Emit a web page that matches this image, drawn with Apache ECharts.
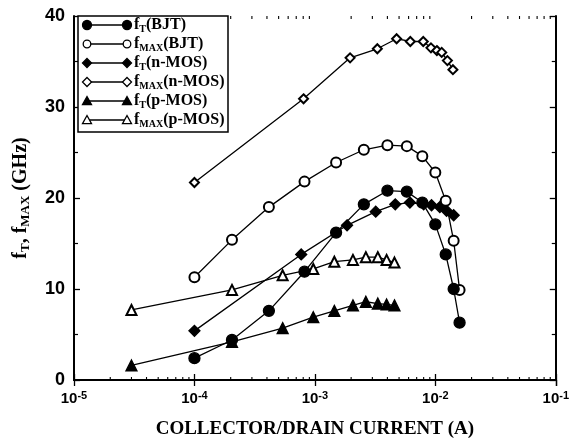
<!DOCTYPE html>
<html>
<head>
<meta charset="utf-8">
<script src="https://cdn.jsdelivr.net/npm/echarts@6/dist/echarts.min.js"></script>
<style>
  html, body { margin: 0; padding: 0; background: #fff; }
  #chart { width: 572px; height: 444px; }
</style>
</head>
<body>
<div id="chart"></div>
<script>
// BJT data (current in A, frequency in GHz)
const bjtCurrent = [1e-4, 2.05e-4, 4.15e-4, 8.2e-4, 1.5e-3, 2.55e-3, 4.0e-3, 5.8e-3, 7.8e-3, 1.0e-2, 1.22e-2, 1.42e-2, 1.59e-2]
const bjtFt = [2.4, 4.4, 7.6, 11.9, 16.2, 19.3, 20.8, 20.7, 19.5, 17.1, 13.8, 10.0, 6.3]
const bjtFmax = [11.3, 15.4, 19.0, 21.8, 23.9, 25.3, 25.8, 25.7, 24.6, 22.8, 19.7, 15.3, 9.9]

// n-MOS data
const nmosFtCurrent = [1e-4, 7.7e-4, 1.85e-3, 3.2e-3, 4.65e-3, 6.15e-3, 8.0e-3, 9.3e-3, 1.09e-2, 1.24e-2, 1.42e-2]
const nmosFt = [5.4, 13.8, 17.0, 18.5, 19.3, 19.5, 19.3, 19.2, 19.0, 18.6, 18.1]
const nmosFmaxCurrent = [1e-4, 8.05e-4, 1.96e-3, 3.3e-3, 4.77e-3, 6.2e-3, 7.94e-3, 9.2e-3, 1.03e-2, 1.13e-2, 1.26e-2, 1.4e-2]
const nmosFmax = [21.7, 30.9, 35.4, 36.4, 37.5, 37.2, 37.2, 36.5, 36.2, 36.0, 35.1, 34.1]

// p-MOS data
const pmosCurrent = [3e-5, 2.05e-4, 5.4e-4, 9.7e-4, 1.45e-3, 2.07e-3, 2.65e-3, 3.33e-3, 3.94e-3, 4.58e-3]
const pmosFt = [1.6, 4.2, 5.7, 6.9, 7.6, 8.2, 8.6, 8.4, 8.3, 8.2]
const pmosFmax = [7.7, 9.9, 11.5, 12.2, 13.0, 13.2, 13.5, 13.5, 13.2, 12.9]

// axis ranges
const xMin = 1e-5
const xMax = 1e-1
const yMin = 0
const yMax = 40
const yInterval = 10

// log minor ticks (2..9 per decade)
const minorTicks = []
for (let e = -5; e < -1; e++) {
  for (let m = 2; m <= 9; m++) minorTicks.push([m * Math.pow(10, e), 0])
}

const zip = (xs, ys) => xs.map((x, i) => [x, ys[i]])

const SERIF = '"Liberation Serif", "DejaVu Serif", serif'
const SANS = '"Liberation Sans", Arial, sans-serif'

const legendRows = [
  { sym: 'circle', fill: true, main: 'f', sub: 'T', rest: '(BJT)' },
  { sym: 'circle', fill: false, main: 'f', sub: 'MAX', rest: '(BJT)' },
  { sym: 'diamond', fill: true, main: 'f', sub: 'T', rest: '(n-MOS)' },
  { sym: 'diamond', fill: false, main: 'f', sub: 'MAX', rest: '(n-MOS)' },
  { sym: 'triangle', fill: true, main: 'f', sub: 'T', rest: '(p-MOS)' },
  { sym: 'triangle', fill: false, main: 'f', sub: 'MAX', rest: '(p-MOS)' }
]

const richText = {
  f: { fontFamily: SERIF, fontWeight: 'bold', fontSize: 16, lineHeight: 18, color: '#000' },
  s: { fontFamily: SERIF, fontWeight: 'bold', fontSize: 10, lineHeight: 8, verticalAlign: 'bottom', color: '#000' }
}

// legend marker shapes
function legendMarker (sym, fill, cx, cy) {
  const style = { fill: fill ? '#000' : '#fff', stroke: '#000', lineWidth: 1.3 }
  if (sym === 'circle') {
    return { type: 'circle', shape: { cx, cy, r: fill ? 4.5 : 3.8 }, style }
  }
  if (sym === 'diamond') {
    const r = 4.5
    return { type: 'polygon', shape: { points: [[cx, cy - r], [cx + r, cy], [cx, cy + r], [cx - r, cy]] }, style }
  }
  const r = 4.5
  return { type: 'polygon', shape: { points: [[cx, cy - r], [cx + r, cy + r * 0.8], [cx - r, cy + r * 0.8]] }, style }
}

const legendGraphics = [
  { type: 'rect', shape: { x: 78, y: 16, width: 150, height: 116 }, style: { fill: '#fff', stroke: '#000', lineWidth: 1.5 }, z: 100 }
]
legendRows.forEach((row, i) => {
  const cy = 25 + i * 19
  legendGraphics.push({ type: 'line', shape: { x1: 87, y1: cy, x2: 127, y2: cy }, style: { stroke: '#000', lineWidth: 1.3 }, z: 101 })
  legendGraphics.push(Object.assign(legendMarker(row.sym, row.fill, 87, cy), { z: 102 }))
  legendGraphics.push(Object.assign(legendMarker(row.sym, row.fill, 127, cy), { z: 102 }))
  legendGraphics.push({
    type: 'text',
    x: 134,
    y: cy,
    z: 102,
    style: {
      text: `{f|${row.main}}{s|${row.sub}}{f|${row.rest}}`,
      rich: richText,
      verticalAlign: 'middle',
      align: 'left'
    }
  })
})

function makeSeries (name, data, symbol, size) {
  return {
    name,
    type: 'line',
    data,
    symbol,
    symbolSize: size,
    showAllSymbol: true,
    lineStyle: { color: '#000', width: 1.3 },
    itemStyle: { color: '#000', borderColor: '#000', borderWidth: 1.3 },
    animation: false
  }
}

const chart = echarts.init(document.getElementById('chart'))
const xAxisBase = {
  type: 'log',
  logBase: 10,
  min: xMin,
  max: xMax,
  axisLine: { lineStyle: { color: '#000', width: 2 } },
  axisTick: { inside: true, length: 6, lineStyle: { color: '#000', width: 1.3 } },
  splitLine: { show: false }
}
const yAxisBase = {
  type: 'value',
  min: yMin,
  max: yMax,
  interval: yInterval,
  axisLine: { lineStyle: { color: '#000', width: 2 } },
  axisTick: { inside: true, length: 6, lineStyle: { color: '#000', width: 1.3 } },
  minorTick: { show: true, splitNumber: 2, length: 4, lineStyle: { color: '#000', width: 1.2 } },
  splitLine: { show: false }
}

chart.setOption({
  backgroundColor: '#fff',
  animation: false,
  grid: { left: 74, right: 12, top: 16, bottom: 60 },
  xAxis: [
    Object.assign({}, xAxisBase, {
      position: 'bottom',
      name: 'COLLECTOR/DRAIN CURRENT (A)',
      nameLocation: 'middle',
      nameGap: 40,
      nameTextStyle: { fontFamily: SERIF, fontWeight: 'bold', fontSize: 19, color: '#000' },
      axisLabel: {
        margin: 10,
        formatter: v => `{b|10}{p|${Math.round(Math.log10(v))}}`,
        rich: {
          b: { fontFamily: SANS, fontWeight: 'bold', fontSize: 15, lineHeight: 18, color: '#000' },
          p: { fontFamily: SANS, fontWeight: 'bold', fontSize: 11, lineHeight: 8, verticalAlign: 'top', color: '#000' }
        }
      }
    }),
    Object.assign({}, xAxisBase, { position: 'top', axisLabel: { show: false } })
  ],
  yAxis: [
    Object.assign({}, yAxisBase, {
      position: 'left',
      name: '{f|f}{s|T}{f|, f}{s|MAX}{f| (GHz)}',
      nameLocation: 'middle',
      nameGap: 42,
      nameTextStyle: {
        rich: {
          f: { fontFamily: SERIF, fontWeight: 'bold', fontSize: 20, lineHeight: 22, color: '#000' },
          s: { fontFamily: SERIF, fontWeight: 'bold', fontSize: 13, lineHeight: 10, verticalAlign: 'bottom', color: '#000' }
        }
      },
      axisLabel: { margin: 9, fontFamily: SANS, fontWeight: 'bold', fontSize: 18, color: '#000' }
    }),
    Object.assign({}, yAxisBase, { position: 'right', axisLabel: { show: false } })
  ],
  graphic: legendGraphics,
  series: [
    {
      type: 'custom',
      silent: true,
      clip: false,
      data: minorTicks,
      encode: { x: 0, y: 1 },
      renderItem: (params, api) => {
        const v = api.value(0)
        const b = api.coord([v, yMin])
        const t = api.coord([v, yMax])
        const st = { stroke: '#000', lineWidth: 1.1 }
        return {
          type: 'group',
          children: [
            { type: 'line', shape: { x1: b[0], y1: b[1], x2: b[0], y2: b[1] - 3 }, style: st },
            { type: 'line', shape: { x1: t[0], y1: t[1], x2: t[0], y2: t[1] + 3 }, style: st }
          ]
        }
      }
    },
    makeSeries('fMAX(n-MOS)', zip(nmosFmaxCurrent, nmosFmax), 'emptyDiamond', 9),
    makeSeries('fMAX(p-MOS)', zip(pmosCurrent, pmosFmax), 'emptyTriangle', 10),
    makeSeries('fT(p-MOS)', zip(pmosCurrent, pmosFt), 'triangle', 11),
    makeSeries('fT(n-MOS)', zip(nmosFtCurrent, nmosFt), 'diamond', 11),
    makeSeries('fMAX(BJT)', zip(bjtCurrent, bjtFmax), 'emptyCircle', 10),
    makeSeries('fT(BJT)', zip(bjtCurrent, bjtFt), 'circle', 11)
  ]
})
</script>
</body>
</html>
